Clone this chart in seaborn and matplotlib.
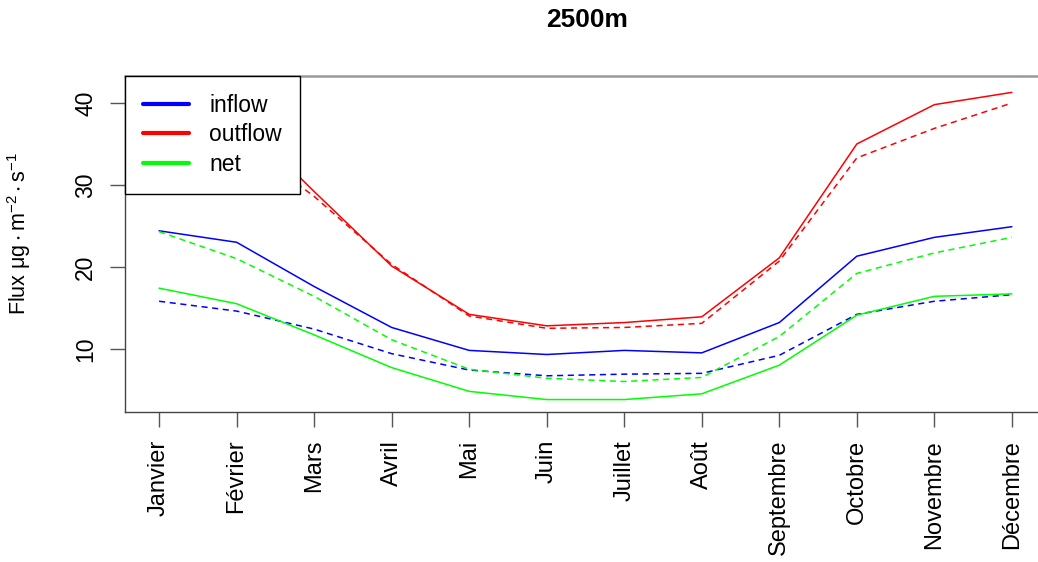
import numpy as np
import pandas as pd
import seaborn as sns
import matplotlib
matplotlib.use('Agg')
import matplotlib.pyplot as plt
from matplotlib.lines import Line2D

months = ['Janvier', 'Février', 'Mars', 'Avril', 'Mai', 'Juin', 'Juillet',
          'Août', 'Septembre', 'Octobre', 'Novembre', 'Décembre']

# solid lines
inflow = [24.4, 23.0, 17.6, 12.6, 9.8, 9.3, 9.8, 9.5, 13.2, 21.3, 23.6, 24.9]
outflow = [41.8, 38.5, 29.2, 20.1, 14.2, 12.8, 13.2, 13.9, 21.1, 35.0, 39.8, 41.3]
net = [17.4, 15.5, 11.7, 7.7, 4.8, 3.8, 3.8, 4.5, 8.0, 14.1, 16.4, 16.7]

# dashed lines
inflow_d = [15.8, 14.6, 12.4, 9.4, 7.4, 6.7, 6.9, 7.0, 9.2, 14.2, 15.8, 16.6]
outflow_d = [40.1, 35.6, 28.6, 20.3, 14.0, 12.5, 12.6, 13.1, 20.7, 33.3, 36.9, 40.0]
net_d = [24.3, 21.0, 16.4, 11.1, 7.5, 6.4, 6.0, 6.5, 11.5, 19.2, 21.7, 23.6]

series_names = ['inflow', 'outflow', 'net']
colors = {'inflow': '#0000ff', 'outflow': '#ff0000', 'net': '#00ff00'}

sns.set_style('white')
plt.rcParams['font.family'] = ['Liberation Sans', 'DejaVu Sans']
plt.rcParams['text.color'] = 'black'
plt.rcParams['axes.labelcolor'] = 'black'
plt.rcParams['mathtext.fontset'] = 'custom'
plt.rcParams['mathtext.rm'] = 'Liberation Sans'
plt.rcParams['mathtext.it'] = 'Liberation Sans'

x = np.arange(len(months))
rows = []
for name, vals, style in [('inflow', inflow, 'solid'), ('outflow', outflow, 'solid'),
                          ('net', net, 'solid'), ('inflow', inflow_d, 'dashed'),
                          ('outflow', outflow_d, 'dashed'), ('net', net_d, 'dashed')]:
    for i, v in enumerate(vals):
        rows.append({'month': i, 'value': v, 'series': name, 'kind': style})
df = pd.DataFrame(rows)

fig = plt.figure(figsize=(10.38, 5.62), dpi=100)
ax = fig.add_axes([0.1204, 0.2669, 0.8873, 0.5979])

for (name, kind), sub in df.groupby(['series', 'kind']):
    sns.lineplot(data=sub, x='month', y='value', color=colors[name],
                 linestyle='-' if kind == 'solid' else (0, (4, 3)),
                 linewidth=1.1, ax=ax, legend=False)

ax.set_xlim(-0.44, 11.44)
ax.set_ylim(2.28, 43.3)
ax.set_xticks(x)
ax.set_xticklabels(months, rotation=90, fontsize=17)
ax.set_yticks([10, 20, 30, 40])
ax.set_yticklabels(['10', '20', '30', '40'], rotation=90, va='center',
                   fontsize=16.5)
ax.tick_params(axis='both', length=11, width=1, color='#555555',
               labelcolor='black', left=True, bottom=True, pad=9)
ax.set_xlabel('')
ax.set_ylabel(r'Flux $\mathregular{\mu g\cdot m^{-2}\cdot s^{-1}}$',
              fontsize=15.5)
ax.yaxis.set_label_coords(-0.100, 0.53)

for side in ['left', 'bottom']:
    ax.spines[side].set_color('#444444')
    ax.spines[side].set_linewidth(1.0)
ax.spines['top'].set_color('#999999')
ax.spines['top'].set_linewidth(1.8)
ax.spines['right'].set_visible(False)

handles = [Line2D([0], [0], color=colors[n], lw=3) for n in series_names]
leg = ax.legend(handles, series_names, loc='upper left',
                bbox_to_anchor=(0, 1), borderaxespad=0, fontsize=16.5,
                frameon=True, fancybox=False, framealpha=1, handlelength=2.0,
                handletextpad=0.9, borderpad=0.78, labelspacing=0.28)
leg.get_frame().set_edgecolor('black')
leg.get_frame().set_linewidth(1.0)

fig.text(0.566, 1 - 20 / 562, '2500m', fontsize=19, fontweight='bold',
         ha='center', va='center')

plt.savefig('out.png', dpi=100)
plt.close()
